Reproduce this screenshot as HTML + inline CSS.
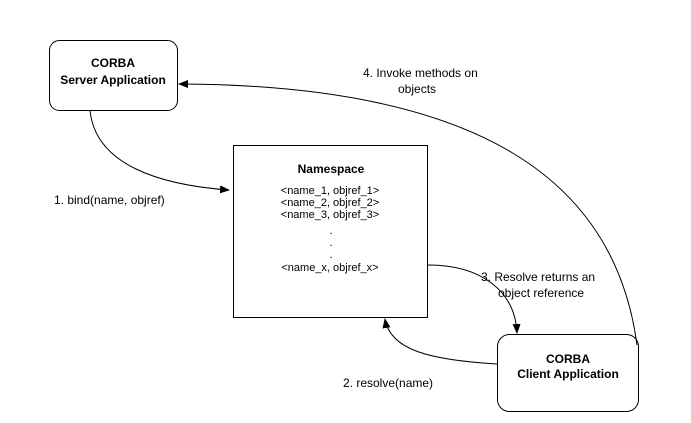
<!DOCTYPE html>
<html><head><style>
html,body{margin:0;padding:0;background:#fff;}
svg{display:block;font-family:"Liberation Sans",Arial,sans-serif;}
</style></head><body>
<svg width="691" height="423" viewBox="0 0 691 423">
<defs><marker id="a" markerWidth="10" markerHeight="8" refX="9" refY="4" orient="auto" markerUnits="userSpaceOnUse"><path d="M0,0 L10,4 L0,8 z" fill="#000"/></marker></defs>
<rect x="49.5" y="40.5" width="128" height="70" rx="10" fill="#fff" stroke="#000"/>
<text x="113" y="67" font-size="12" font-weight="bold" text-anchor="middle">CORBA</text>
<text x="113" y="84" font-size="12" font-weight="bold" text-anchor="middle">Server Application</text>
<rect x="233.5" y="145.5" width="194" height="172" fill="#fff" stroke="#000"/>
<text x="331" y="173" font-size="12" font-weight="bold" text-anchor="middle">Namespace</text>
<g font-size="11" text-anchor="middle">
<text x="330" y="194">&lt;name_1, objref_1&gt;</text>
<text x="330" y="206">&lt;name_2, objref_2&gt;</text>
<text x="330" y="218">&lt;name_3, objref_3&gt;</text>
<text x="331" y="234">.</text><text x="331" y="246">.</text><text x="331" y="258">.</text>
<text x="330" y="271">&lt;name_x, objref_x&gt;</text>
</g>
<rect x="497.5" y="334.5" width="141" height="77" rx="12" fill="#fff" stroke="#000"/>
<text x="568" y="363" font-size="12" font-weight="bold" text-anchor="middle">CORBA</text>
<text x="568" y="378" font-size="12" font-weight="bold" text-anchor="middle">Client Application</text>
<g fill="none" stroke="#000" stroke-width="1">
<path d="M90,110 C95,165 160,185 229,190" marker-end="url(#a)"/>
<path d="M637,345 C615,180 480,85 179,84" marker-end="url(#a)"/>
<path d="M428,265 C480,265 515,290 517,333" marker-end="url(#a)"/>
<path d="M497,364 C430,360 390,350 385,319" marker-end="url(#a)"/>
</g>
<g font-size="12">
<text x="54" y="204">1. bind(name, objref)</text>
<text x="363" y="77">4. Invoke methods on</text>
<text x="398" y="93">objects</text>
<text x="481" y="281">3. Resolve returns an</text>
<text x="498" y="297">object reference</text>
<text x="343" y="387">2. resolve(name)</text>
</g>
</svg>
</body></html>
